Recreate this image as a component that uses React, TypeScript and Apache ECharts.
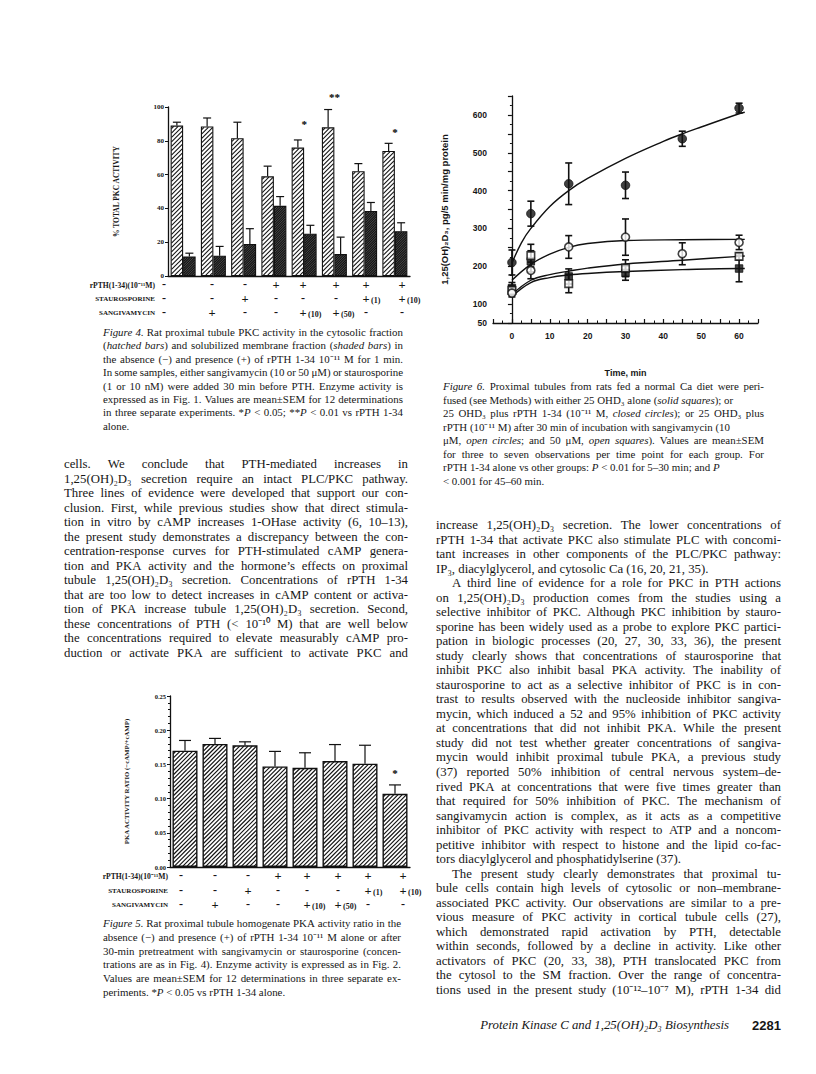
import React, { useEffect, useRef } from 'react';
import * as echarts from 'echarts';

// ---------------- Figure 4 data (PKC activity, % of total) ----------------
const fig4Groups = ['1', '2', '3', '4', '5', '6', '7', '8'];
const pkcCytosol = [89, 88.5, 81.5, 59, 76, 88, 62, 74];
const pkcCytosolSem = [2, 5, 9.5, 6, 4.5, 10.5, 4.5, 4.5];
const pkcMembrane = [11.5, 12, 19, 41.5, 25, 13, 38.5, 26.5];
const pkcMembraneSem = [2, 5.5, 9, 5.5, 5, 10, 5, 5];
const fig4Stars = ['', '', '', '', '*', '**', '', '*'];
const fig4StarLevel = [0, 0, 0, 0, 90, 106, 0, 85];
const fig4Ticks = [0, 20, 40, 60, 80, 100];

// ---------------- Figure 5 data (PKA activity ratio) ----------------
const fig5Groups = ['1', '2', '3', '4', '5', '6', '7', '8'];
const pkaRatio = [0.17, 0.18, 0.178, 0.147, 0.145, 0.155, 0.151, 0.107];
const pkaRatioSem = [0.015, 0.008, 0.005, 0.022, 0.022, 0.024, 0.027, 0.013];
const fig5Stars = ['', '', '', '', '', '', '', '*'];
const fig5StarLevel = [0, 0, 0, 0, 0, 0, 0, 0.137];

// treatment rows (shared by Fig. 4 and Fig. 5)
const rowNames = ['rPTH(1-34)(10⁻¹¹M)', 'STAUROSPORINE', 'SANGIVAMYCIN'];
const rpthRow = ['-', '-', '-', '+', '+', '+', '+', '+'];
const stauroRow = ['-', '-', '+', '-', '-', '-', '+(1)', '+(10)'];
const sangiRow = ['-', '+', '-', '-', '+(10)', '+(50)', '-', '-'];

// ---------------- Figure 6 data (1,25(OH)2D3 vs time) ----------------
const closedCircleT = [0, 5, 15, 30, 45, 60];
const closedCircleY = [210, 339, 418, 414, 537, 618];
const closedCircleSem = [33, 33, 55, 35, 20, 13];
const openCircleT = [0, 5, 15, 30, 45, 60];
const openCircleY = [129, 189, 251, 277, 233, 263];
const openCircleSem = [10, 22, 30, 48, 29, 19];
const openSquareT = [0, 5, 15, 30, 60];
const openSquareY = [136, 228, 154, 195, 226];
const openSquareSem = [12, 30, 24, 22, 9];
const solidSquareT = [0, 5, 15, 30, 60];
const solidSquareY = [142, 213, 173, 182, 194];
const solidSquareSem = [15, 28, 20, 19, 35];
// fitted curves
const closedFitT = [0, 2.5, 5, 10, 15, 20, 30, 40, 45, 50, 60, 61.5];
const closedFitY = [208, 262, 300, 358, 400, 432, 485, 530, 550, 568, 603, 607];
const openCircleFitT = [0, 5, 10, 15, 20, 30, 45, 60, 61.5];
const openCircleFitY = [163, 205, 232, 250, 260, 268, 270, 271, 271];
const openSquareFitT = [0, 5, 10, 15, 20, 30, 45, 60, 61.5];
const openSquareFitY = [125, 163, 178, 187, 195, 206, 216, 226, 227];
const solidSquareFitT = [0, 5, 10, 15, 20, 30, 45, 60, 61.5];
const solidSquareFitY = [120, 157, 170, 177, 181, 186, 191, 194, 194];

// ---------------- Page text ----------------
const fig4Caption = [
  '_Figure 4._ Rat proximal tubule PKC activity in the cytosolic fraction',
  '(_hatched bars_) and solubilized membrane fraction (_shaded bars_) in',
  'the absence (−) and presence (+) of rPTH 1-34 10⁻¹¹ M for 1 min.',
  'In some samples, either sangivamycin (10 or 50 μM) or staurosporine',
  '(1 or 10 nM) were added 30 min before PTH. Enzyme activity is',
  'expressed as in Fig. 1. Values are mean±SEM for 12 determinations',
  'in three separate experiments. *_P_ < 0.05; **_P_ < 0.01 vs rPTH 1-34',
  'alone.',
];
const fig5Caption = [
  '_Figure 5._ Rat proximal tubule homogenate PKA activity ratio in the',
  'absence (−) and presence (+) of rPTH 1-34 10⁻¹¹ M alone or after',
  '30-min pretreatment with sangivamycin or staurosporine (concen-',
  'trations are as in Fig. 4). Enzyme activity is expressed as in Fig. 2.',
  'Values are mean±SEM for 12 determinations in three separate ex-',
  'periments. *_P_ < 0.05 vs rPTH 1-34 alone.',
];
const fig6Caption = [
  '_Figure 6._ Proximal tubules from rats fed a normal Ca diet were peri-',
  'fused (see Methods) with either 25 OHD₃ alone (_solid squares_); or',
  '25 OHD₃ plus rPTH 1-34 (10⁻¹¹ M, _closed circles_); or 25 OHD₃ plus',
  'rPTH (10⁻¹¹ M) after 30 min of incubation with sangivamycin (10',
  'μM, _open circles_; and 50 μM, _open squares_). Values are mean±SEM',
  'for three to seven observations per time point for each group. For',
  'rPTH 1-34 alone vs other groups: _P_ < 0.01 for 5–30 min; and _P_',
  '< 0.001 for 45–60 min.',
];
const leftColumn = [
  'cells. We conclude that PTH-mediated increases in',
  '1,25(OH)₂D₃ secretion require an intact PLC/PKC pathway.',
  'Three lines of evidence were developed that support our con-',
  'clusion. First, while previous studies show that direct stimula-',
  'tion in vitro by cAMP increases 1-OHase activity (6, 10–13),',
  'the present study demonstrates a discrepancy between the con-',
  'centration-response curves for PTH-stimulated cAMP genera-',
  'tion and PKA activity and the hormone’s effects on proximal',
  'tubule 1,25(OH)₂D₃ secretion. Concentrations of rPTH 1-34',
  'that are too low to detect increases in cAMP content or activa-',
  'tion of PKA increase tubule 1,25(OH)₂D₃ secretion. Second,',
  'these concentrations of PTH (< 10⁻¹⁰ M) that are well below',
  'the concentrations required to elevate measurably cAMP pro-',
  'duction or activate PKA are sufficient to activate PKC and',
];
const rightColumn = [
  'increase 1,25(OH)₂D₃ secretion. The lower concentrations of',
  'rPTH 1-34 that activate PKC also stimulate PLC with concomi-',
  'tant increases in other components of the PLC/PKC pathway:',
  'IP₃, diacylglycerol, and cytosolic Ca (16, 20, 21, 35).',
  'A third line of evidence for a role for PKC in PTH actions',
  'on 1,25(OH)₂D₃ production comes from the studies using a',
  'selective inhibitor of PKC. Although PKC inhibition by stauro-',
  'sporine has been widely used as a probe to explore PKC partici-',
  'pation in biologic processes (20, 27, 30, 33, 36), the present',
  'study clearly shows that concentrations of staurosporine that',
  'inhibit PKC also inhibit basal PKA activity. The inability of',
  'staurosporine to act as a selective inhibitor of PKC is in con-',
  'trast to results observed with the nucleoside inhibitor sangiva-',
  'mycin, which induced a 52 and 95% inhibition of PKC activity',
  'at concentrations that did not inhibit PKA. While the present',
  'study did not test whether greater concentrations of sangiva-',
  'mycin would inhibit proximal tubule PKA, a previous study',
  '(37) reported 50% inhibition of central nervous system–de-',
  'rived PKA at concentrations that were five times greater than',
  'that required for 50% inhibition of PKC. The mechanism of',
  'sangivamycin action is complex, as it acts as a competitive',
  'inhibitor of PKC activity with respect to ATP and a noncom-',
  'petitive inhibitor with respect to histone and the lipid co-fac-',
  'tors diacylglycerol and phosphatidylserine (37).',
  'The present study clearly demonstrates that proximal tu-',
  'bule cells contain high levels of cytosolic or non–membrane-',
  'associated PKC activity. Our observations are similar to a pre-',
  'vious measure of PKC activity in cortical tubule cells (27),',
  'which demonstrated rapid activation by PTH, detectable',
  'within seconds, followed by a decline in activity. Like other',
  'activators of PKC (20, 33, 38), PTH translocated PKC from',
  'the cytosol to the SM fraction. Over the range of concentra-',
  'tions used in the present study (10⁻¹²–10⁻⁷ M), rPTH 1-34 did',
];
const footerTitle = 'Protein Kinase C and 1,25(OH)₂D₃ Biosynthesis';
const footerPage = '2281';

// ---------------- styling constants ----------------
const SERIF = 'Liberation Serif';
const SANS = 'Liberation Sans';
const INK = '#161616';

function buildText(): any[] {
  const els: any[] = [];
  const ctx = document.createElement('canvas').getContext('2d')!;
  const measure = (t: string, size: number, italic: boolean, bold: boolean, fam: string) => {
    ctx.font = `${italic ? 'italic ' : ''}${bold ? 'bold ' : ''}${size}px "${fam}"`;
    return ctx.measureText(t).width;
  };
  const block = (
    lines: string[], x0: number, x1: number, y0: number, lh: number, size: number,
    justify: (i: number) => boolean, indent: (i: number) => number,
  ) => {
    let italic = false;
    lines.forEach((line, li) => {
      const y = y0 + li * lh;
      const startX = x0 + indent(li);
      const words = line.split(' ').filter(Boolean);
      const ws = words.map((word) => {
        const segs: { t: string; it: boolean }[] = [];
        let cur = '';
        for (const ch of word) {
          if (ch === '_') {
            if (cur) segs.push({ t: cur, it: italic });
            cur = '';
            italic = !italic;
          } else cur += ch;
        }
        if (cur) segs.push({ t: cur, it: italic });
        const widths = segs.map((s) => measure(s.t, size, s.it, false, SERIF));
        return { segs, widths, total: widths.reduce((a, b) => a + b, 0) };
      });
      const sum = ws.reduce((a, w) => a + w.total, 0);
      const space = measure(' ', size, false, false, SERIF);
      const gap = justify(li) && words.length > 1 ? (x1 - startX - sum) / (words.length - 1) : space;
      let x = startX;
      ws.forEach((w) => {
        let sx = x;
        w.segs.forEach((s, k) => {
          els.push({
            type: 'text', x: sx, y, silent: true,
            style: {
              text: s.t, fontSize: size, fontFamily: SERIF, fontStyle: s.it ? 'italic' : 'normal',
              fill: INK, textAlign: 'left', textVerticalAlign: 'middle',
            },
          });
          sx += w.widths[k];
        });
        x += w.total + gap;
      });
    });
  };

  // captions
  block(fig4Caption, 103, 403, 332, 13.4, 10.9, (i) => i < fig4Caption.length - 1, () => 0);
  block(fig5Caption, 103, 401, 923, 13.8, 10.9, (i) => i < fig5Caption.length - 1, () => 0);
  block(fig6Caption, 443, 764, 386, 13.5, 10.9, (i) => [0, 2, 4, 5].includes(i), () => 0);
  // body columns
  block(leftColumn, 64, 408, 464, 14.5, 12.8, () => true, () => 0);
  block(rightColumn, 436, 781, 525, 14.53, 12.8, (i) => i !== 3 && i !== 23, (i) => (i === 4 || i === 24 ? 16 : 0));

  // footer
  els.push({
    type: 'text', x: 729, y: 1025, silent: true,
    style: { text: footerTitle, fontSize: 12.8, fontFamily: SERIF, fontStyle: 'italic', fill: INK, textAlign: 'right', textVerticalAlign: 'middle' },
  });
  els.push({
    type: 'text', x: 781, y: 1025, silent: true,
    style: { text: footerPage, fontSize: 13, fontFamily: SANS, fontWeight: 'bold', fill: INK, textAlign: 'right', textVerticalAlign: 'middle' },
  });

  // treatment rows under Fig. 4 and Fig. 5
  const rows = [rpthRow, stauroRow, sangiRow];
  const drawRows = (rowY: number[], nameRight: number, colX: number[]) => {
    rows.forEach((row, r) => {
      els.push({
        type: 'text', x: nameRight, y: rowY[r], silent: true,
        style: { text: rowNames[r], fontSize: r === 0 ? 7.6 : 7, fontFamily: SERIF, fontWeight: 'bold', fill: INK, textAlign: 'right', textVerticalAlign: 'middle' },
      });
      row.forEach((v, c) => {
        const sign = v.charAt(0);
        const rest = v.slice(1);
        els.push({
          type: 'text', x: colX[c], y: rowY[r] + (sign === '-' ? -1 : 0), silent: true,
          style: { text: sign === '-' ? '-' : '+', fontSize: sign === '-' ? 12 : 12.5, fontFamily: SERIF, fontWeight: 'bold', fill: INK, textAlign: 'center', textVerticalAlign: 'middle' },
        });
        if (rest) {
          els.push({
            type: 'text', x: colX[c] + 5, y: rowY[r] + 1, silent: true,
            style: { text: rest, fontSize: 8, fontFamily: SERIF, fontWeight: 'bold', fill: INK, textAlign: 'left', textVerticalAlign: 'middle' },
          });
        }
      });
    });
  };
  drawRows([285, 299, 313], 155, [164, 212, 245, 276, 303, 336, 366, 402]);
  drawRows([876, 891, 905], 168, [181, 215, 248, 278, 307, 338, 368, 403]);
  return els;
}

// diagonal "/" hatching drawn inside a bar, located through the axes
function hatchRender(offset: number, width: number, step: number, lw: number, color: string) {
  return (_p: any, api: any) => {
    const i = api.value(0), v = api.value(1);
    const base = api.coord([i, 0]);
    const top = api.coord([i, v]);
    const L = base[0] + offset - width / 2 + 0.9;
    const R = base[0] + offset + width / 2 - 0.9;
    const T = top[1] + 0.9;
    const B = base[1] - 0.9;
    const children: any[] = [];
    for (let c = L + T + step * 0.5; c < R + B; c += step) {
      const lo = Math.max(L, c - B);
      const hi = Math.min(R, c - T);
      if (hi - lo > 0.2) {
        children.push({ type: 'line', shape: { x1: lo, y1: c - lo, x2: hi, y2: c - hi }, style: { stroke: color, lineWidth: lw } });
      }
    }
    return { type: 'group', children };
  };
}

function upErr(offset: number, capHalf: number) {
  return (_p: any, api: any) => {
    const i = api.value(0), y = api.value(1), e = api.value(2);
    const a = api.coord([i, y]);
    const b = api.coord([i, y + e]);
    const x = a[0] + offset;
    const st = { stroke: '#111', lineWidth: 1.2 };
    return {
      type: 'group',
      children: [
        { type: 'line', shape: { x1: x, y1: a[1], x2: x, y2: b[1] }, style: st },
        { type: 'line', shape: { x1: x - capHalf, y1: b[1], x2: x + capHalf, y2: b[1] }, style: st },
      ],
    };
  };
}
function bothErr(capHalf: number) {
  return (_p: any, api: any) => {
    const t = api.value(0), y = api.value(1), e = api.value(2);
    const top = api.coord([t, y + e]);
    const bot = api.coord([t, y - e]);
    const st = { stroke: '#111', lineWidth: 1.6 };
    return {
      type: 'group',
      children: [
        { type: 'line', shape: { x1: top[0], y1: top[1], x2: bot[0], y2: bot[1] }, style: st },
        { type: 'line', shape: { x1: top[0] - capHalf, y1: top[1], x2: top[0] + capHalf, y2: top[1] }, style: st },
        { type: 'line', shape: { x1: bot[0] - capHalf, y1: bot[1], x2: bot[0] + capHalf, y2: bot[1] }, style: st },
      ],
    };
  };
}
function starRender(stars: string[]) {
  return (p: any, api: any) => {
    const s = stars[p.dataIndex];
    const pt = api.coord([api.value(0), api.value(1)]);
    return {
      type: 'text', x: pt[0], y: pt[1],
      style: { text: s, fontSize: 11, fontFamily: SERIF, fontWeight: 'bold', fill: '#000', textAlign: 'center', textVerticalAlign: 'middle' },
    };
  };
}

function buildOption(): any {
  const serifLbl = { fontFamily: SERIF, fontWeight: 'bold', fontSize: 7, color: INK };
  const sansLbl = { fontFamily: SANS, fontWeight: 'bold', fontSize: 8.5, color: INK };
  const axisLine = { show: true, lineStyle: { color: '#111', width: 1.3 } };
  const zip = (a: number[], b: number[], c?: number[]) => a.map((v, i) => (c ? [v, b[i], c[i]] : [v, b[i]]));
  const idx = (arr: number[]) => arr.map((v, i) => [i, v]);
  const idxErr = (arr: number[], e: number[]) => arr.map((v, i) => [i, v, e[i]]);

  return {
    animation: false,
    backgroundColor: '#ffffff',
    grid: [
      { left: 168, top: 107, width: 242, height: 169 },
      { left: 493, top: 96, width: 265, height: 227 },
      { left: 170, top: 696, width: 240, height: 171 },
    ],
    xAxis: [
      { type: 'category', gridIndex: 0, data: fig4Groups, axisLine, axisTick: { show: false }, axisLabel: { show: false } },
      {
        type: 'value', gridIndex: 1, min: -5, max: 65, interval: 5, axisLine,
        axisTick: { show: true, inside: true, length: 4, lineStyle: { color: '#111', width: 1.2 } },
        minorTick: { show: true, splitNumber: 2, length: 2.5, lineStyle: { color: '#111', width: 1 } },
        splitLine: { show: false },
        axisLabel: { ...sansLbl, margin: 8, formatter: (v: number) => (v % 10 === 0 ? String(v) : '') },
        name: 'Time, min', nameLocation: 'middle', nameGap: 45,
        nameTextStyle: { fontFamily: SANS, fontWeight: 'bold', fontSize: 9, color: INK },
      },
      { type: 'category', gridIndex: 2, data: fig5Groups, axisLine, axisTick: { show: false }, axisLabel: { show: false } },
    ],
    yAxis: [
      {
        type: 'value', gridIndex: 0, min: 0, max: 100, interval: 20, axisLine,
        axisTick: { show: true, length: 3, lineStyle: { color: '#111' } }, splitLine: { show: false },
        axisLabel: { ...serifLbl, margin: 4, formatter: (v: number) => String(fig4Ticks.includes(v) ? v : '') },
        name: '% TOTAL PKC ACTIVITY', nameLocation: 'middle', nameGap: 48, nameRotate: 90,
        nameTextStyle: { fontFamily: SERIF, fontWeight: 'bold', fontSize: 7.5, color: INK },
      },
      {
        type: 'value', gridIndex: 1, min: 50, max: 650, interval: 50, axisLine,
        axisTick: { show: true, length: 4, lineStyle: { color: '#111', width: 1.2 } },
        minorTick: { show: true, splitNumber: 2, length: 2, lineStyle: { color: '#111' } },
        splitLine: { show: false },
        axisLabel: { ...sansLbl, margin: 6, formatter: (v: number) => (v === 50 || (v % 100 === 0 && v <= 600) ? String(v) : '') },
        name: '1,25(OH)₂D₃, pg/5 min/mg protein', nameLocation: 'middle', nameGap: 44, nameRotate: 90,
        nameTextStyle: { fontFamily: SANS, fontWeight: 'bold', fontSize: 9.5, color: INK },
      },
      {
        type: 'value', gridIndex: 2, min: 0, max: 0.25, interval: 0.05, axisLine,
        axisTick: { show: true, length: 3, lineStyle: { color: '#111' } },
        minorTick: { show: true, splitNumber: 5, length: 2, lineStyle: { color: '#111' } },
        splitLine: { show: false },
        axisLabel: { ...serifLbl, fontSize: 6.5, margin: 4, formatter: (v: number) => v.toFixed(2) },
        name: 'PKA ACTIVITY RATIO (−cAMP/+cAMP)', nameLocation: 'middle', nameGap: 40, nameRotate: 90,
        nameTextStyle: { fontFamily: SERIF, fontWeight: 'bold', fontSize: 6.8, color: INK },
      },
    ],
    series: [
      // ---- Figure 4 bars
      {
        type: 'bar', xAxisIndex: 0, yAxisIndex: 0, data: pkcCytosol, barWidth: 12.5, barGap: '0%',
        itemStyle: { color: '#ffffff', borderColor: '#111', borderWidth: 1.1 },
      },
      {
        type: 'bar', xAxisIndex: 0, yAxisIndex: 0, data: pkcMembrane, barWidth: 12.5, barGap: '0%',
        itemStyle: { color: '#555555', borderColor: '#111', borderWidth: 1.1 },
      },
      { type: 'custom', xAxisIndex: 0, yAxisIndex: 0, data: idx(pkcCytosol), renderItem: hatchRender(-6.25, 12.5, 4.4, 1.05, '#111'), z: 4 },
      { type: 'custom', xAxisIndex: 0, yAxisIndex: 0, data: idx(pkcMembrane), renderItem: hatchRender(6.25, 12.5, 2.4, 1.1, '#111'), z: 4 },
      { type: 'custom', xAxisIndex: 0, yAxisIndex: 0, data: idxErr(pkcCytosol, pkcCytosolSem), renderItem: upErr(-6.25, 4), z: 5 },
      { type: 'custom', xAxisIndex: 0, yAxisIndex: 0, data: idxErr(pkcMembrane, pkcMembraneSem), renderItem: upErr(6.25, 4), z: 5 },
      { type: 'custom', xAxisIndex: 0, yAxisIndex: 0, data: idx(fig4StarLevel), renderItem: starRender(fig4Stars), z: 5 },
      // ---- Figure 5 bars
      {
        type: 'bar', xAxisIndex: 2, yAxisIndex: 2, data: pkaRatio, barWidth: 25,
        itemStyle: { color: '#ffffff', borderColor: '#111', borderWidth: 1.4 },
      },
      { type: 'custom', xAxisIndex: 2, yAxisIndex: 2, data: idx(pkaRatio), renderItem: hatchRender(0, 25, 4.2, 1.15, '#111'), z: 4 },
      { type: 'custom', xAxisIndex: 2, yAxisIndex: 2, data: idxErr(pkaRatio, pkaRatioSem), renderItem: upErr(0, 6), z: 5 },
      { type: 'custom', xAxisIndex: 2, yAxisIndex: 2, data: idx(fig5StarLevel), renderItem: starRender(fig5Stars), z: 5 },
      // ---- Figure 6: error bars
      ...[
        zip(closedCircleT, closedCircleY, closedCircleSem),
        zip(openCircleT, openCircleY, openCircleSem),
        zip(openSquareT, openSquareY, openSquareSem),
        zip(solidSquareT, solidSquareY, solidSquareSem),
      ].map((d) => ({ type: 'custom', xAxisIndex: 1, yAxisIndex: 1, data: d, renderItem: bothErr(3.5), z: 2 })),
      // ---- Figure 6: fitted curves
      ...[
        zip(closedFitT, closedFitY),
        zip(openCircleFitT, openCircleFitY),
        zip(openSquareFitT, openSquareFitY),
        zip(solidSquareFitT, solidSquareFitY),
      ].map((d) => ({
        type: 'line', xAxisIndex: 1, yAxisIndex: 1, data: d, smooth: 0.4, symbol: 'none', z: 3,
        lineStyle: { color: '#111', width: 1.4 },
      })),
      // ---- Figure 6: markers
      {
        type: 'scatter', xAxisIndex: 1, yAxisIndex: 1, data: zip(solidSquareT, solidSquareY), symbol: 'rect', symbolSize: 7.5, z: 4,
        itemStyle: { color: '#111', borderColor: '#111', borderWidth: 1 },
      },
      {
        type: 'scatter', xAxisIndex: 1, yAxisIndex: 1, data: zip(openSquareT, openSquareY), symbol: 'rect', symbolSize: 7.5, z: 4,
        itemStyle: { color: '#ffffff', borderColor: '#111', borderWidth: 1.6 },
      },
      {
        type: 'scatter', xAxisIndex: 1, yAxisIndex: 1, data: zip(openCircleT, openCircleY), symbol: 'circle', symbolSize: 8, z: 4,
        itemStyle: { color: '#ffffff', borderColor: '#111', borderWidth: 1.6 },
      },
      {
        type: 'scatter', xAxisIndex: 1, yAxisIndex: 1, data: zip(closedCircleT, closedCircleY), symbol: 'circle', symbolSize: 8.5, z: 4,
        itemStyle: { color: '#111', borderColor: '#111', borderWidth: 1 },
      },
    ],
    graphic: { elements: buildText() },
  };
}

export default function App() {
  const ref = useRef<HTMLDivElement>(null);
  useEffect(() => {
    if (!ref.current) return;
    const chart = echarts.init(ref.current, undefined, { renderer: 'svg' });
    chart.setOption(buildOption());
    return () => chart.dispose();
  }, []);
  return (
    <div
      ref={ref}
      style={{ position: 'absolute', left: 0, top: 0, width: 816, height: 1074, background: '#fff' }}
    />
  );
}
